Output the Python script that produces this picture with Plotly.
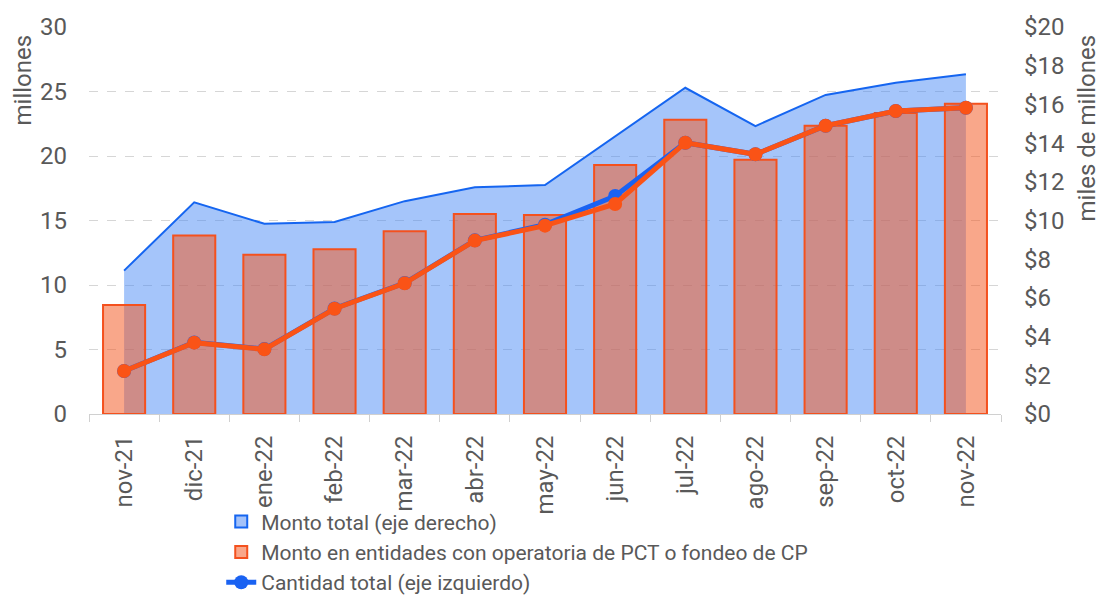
import plotly.graph_objects as go

meses = ["nov-21", "dic-21", "ene-22", "feb-22", "mar-22", "abr-22", "may-22",
         "jun-22", "jul-22", "ago-22", "sep-22", "oct-22", "nov-22"]

# Monto total (miles de millones, eje derecho)
monto_total = [7.41, 10.94, 9.83, 9.92, 11.0, 11.72, 11.83, 14.36, 16.86, 14.88, 16.49, 17.12, 17.56]
# Monto en entidades con operatoria de PCT o fondeo de CP (eje derecho)
monto_pct = [5.63, 9.22, 8.23, 8.51, 9.44, 10.34, 10.28, 12.87, 15.21, 13.14, 14.90, 15.56, 16.04]
# Cantidad total (millones, eje izquierdo)
cantidad_total = [3.33, 5.55, 5.03, 8.18, 10.15, 13.46, 14.68, 16.90, 21.03, 20.13, 22.35, 23.49, 23.74]
# Cantidad en entidades con operatoria de PCT o fondeo de CP (eje izquierdo)
cantidad_pct = [3.33, 5.53, 5.01, 8.16, 10.13, 13.44, 14.60, 16.28, 21.03, 20.13, 22.35, 23.49, 23.74]

FONT = "Roboto"
GRAY = "#595959"
AREA_FILL = "rgba(66,133,244,0.48)"
AREA_LINE = "#1565F0"
BAR_FILL = "rgba(244,88,34,0.53)"
BAR_LINE = "#F4511E"

fig = go.Figure()

# Area (drawn on the hidden base axis so it stays beneath the bars)
fig.add_trace(go.Scatter(
    x=meses, y=monto_total, name="Monto total (eje derecho)",
    mode="lines", fill="tozeroy", fillcolor=AREA_FILL,
    line=dict(color=AREA_LINE, width=2),
    yaxis="y", showlegend=False, legendgroup="total",
))
# legend entry (box symbol) for the area
fig.add_trace(go.Bar(
    x=meses, y=[None] * len(meses), name="Monto total (eje derecho)",
    marker=dict(color="#A4C2F9", line=dict(color=AREA_LINE, width=2)),
    yaxis="y", legendgroup="total", hoverinfo="skip",
))

fig.add_trace(go.Bar(
    x=meses, y=monto_pct,
    name="Monto en entidades con operatoria de PCT o fondeo de CP",
    marker=dict(color=BAR_FILL, line=dict(color=BAR_LINE, width=2)),
    width=0.6, yaxis="y2",
))

fig.add_trace(go.Scatter(
    x=meses, y=cantidad_total, name="Cantidad total (eje izquierdo)",
    mode="lines+markers",
    line=dict(color="#1A62F2", width=5),
    marker=dict(color="#1A62F2", size=14),
    yaxis="y3",
))

fig.add_trace(go.Scatter(
    x=meses, y=cantidad_pct, name="Cantidad PCT",
    mode="lines+markers", showlegend=False,
    line=dict(color="#FA5316", width=5),
    marker=dict(color="#FA5316", size=14),
    yaxis="y3",
))

tickfont = dict(family=FONT, size=24, color=GRAY)

fig.update_layout(
    width=1098, height=591,
    margin=dict(l=81, r=105, t=19, b=185, autoexpand=False),
    paper_bgcolor="white", plot_bgcolor="white",
    font=dict(family=FONT, color=GRAY),
    barmode="overlay",
    xaxis=dict(
        type="category", tickangle=-90, tickfont=tickfont,
        tickson="boundaries", ticks="outside", ticklen=7,
        tickcolor="#d0d0d0", showline=True, linecolor="#d0d0d0",
        showgrid=False, range=[-0.5, 12.5], automargin=False,
        ticklabelstandoff=11,
    ),
    yaxis=dict(range=[0, 20], visible=False, showgrid=False, automargin=False),
    yaxis2=dict(
        overlaying="y", side="right", range=[0, 20], dtick=2,
        tickprefix="$", tickfont=tickfont, showgrid=False, zeroline=False,
        automargin=False, ticklabelstandoff=22,
    ),
    yaxis3=dict(
        overlaying="y", side="left", range=[0, 30], dtick=5,
        tickfont=tickfont, showgrid=True, gridcolor="#d6d6d6", griddash="dash",
        gridwidth=1, zeroline=False, automargin=False, ticklabelstandoff=21,
    ),
    legend=dict(
        orientation="v", x=0.145, y=-0.226, xanchor="left", yanchor="top",
        font=dict(family=FONT, size=21, color=GRAY), tracegroupgap=0,
        traceorder="normal", itemwidth=30, bgcolor="rgba(0,0,0,0)",
    ),
    showlegend=True,
    annotations=[
        dict(text="millones", xref="paper", yref="paper", x=0, y=1.0,
             xshift=-67, yshift=-6, xanchor="center", yanchor="top", textangle=-90,
             showarrow=False, font=dict(family=FONT, size=24, color=GRAY)),
        dict(text="miles de millones", xref="paper", yref="paper", x=1, y=1.0,
             xshift=85, yshift=-6, xanchor="center", yanchor="top", textangle=-90,
             showarrow=False, font=dict(family=FONT, size=24, color=GRAY)),
    ],
)

fig.write_html("out.html")
